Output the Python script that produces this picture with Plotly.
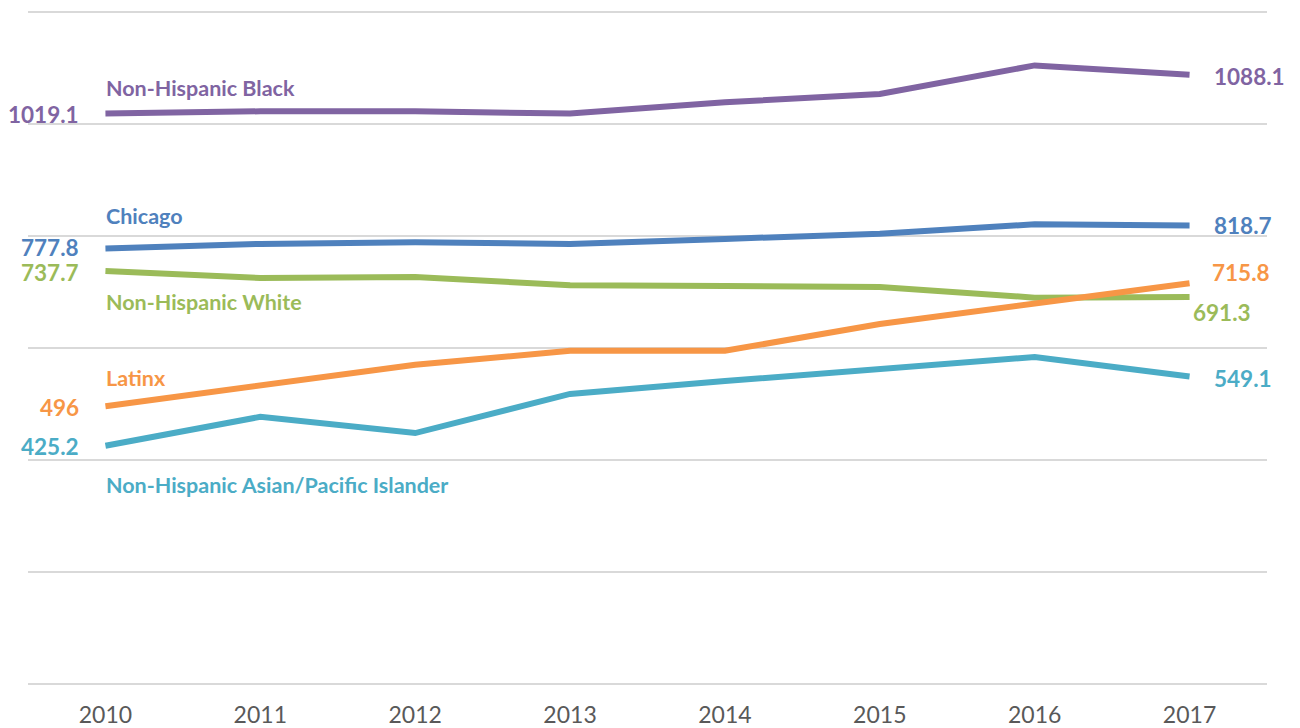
import plotly.graph_objects as go

years = ["2010", "2011", "2012", "2013", "2014", "2015", "2016", "2017"]
black = [1019.1, 1023, 1023, 1019, 1039, 1054, 1105, 1088.1]
chicago = [777.8, 786, 789, 786, 795, 804, 821, 818.7]
white = [737.7, 725, 727, 712, 711, 709, 690, 691.3]
latinx = [496, 532, 570, 595, 595, 643, 679, 715.8]
asian = [425.2, 477, 448, 518, 541, 562, 584, 549.1]

series = [
    ("Non-Hispanic Black", black, "#8064A2"),
    ("Chicago", chicago, "#4F81BD"),
    ("Non-Hispanic White", white, "#9BBB59"),
    ("Latinx", latinx, "#F79646"),
    ("Non-Hispanic Asian/Pacific Islander", asian, "#4BACC6"),
]

name_shift = {"Non-Hispanic Black": 25, "Chicago": 33, "Non-Hispanic White": -31,
              "Latinx": 28, "Non-Hispanic Asian/Pacific Islander": -39}
left_shift = {"Non-Hispanic Black": -1, "Chicago": 1, "Non-Hispanic White": -2,
              "Latinx": -1, "Non-Hispanic Asian/Pacific Islander": -1}
right_shift = {"Non-Hispanic Black": (22, -2), "Chicago": (22, 0), "Non-Hispanic White": (1, -16),
               "Latinx": (20, 11), "Non-Hispanic Asian/Pacific Islander": (22, -2)}

FONT = "Lato"
first_idx = 0
last_idx = len(years) - 1
fig = go.Figure()
for name, vals, color in series:
    fig.add_trace(go.Scatter(x=years, y=vals, mode="lines", name=name,
                             line=dict(color=color, width=6), hoverinfo="skip"))
    fig.add_annotation(x=first_idx, y=vals[0], xref="x", yref="y", text="<b>" + name + "</b>",
                       showarrow=False, xanchor="left", yanchor="middle", xshift=-1,
                       yshift=name_shift[name], font=dict(family=FONT, size=21.5, color=color))
    fig.add_annotation(x=first_idx, y=vals[0], xref="x", yref="y",
                       text="<b>%g</b>" % vals[0], showarrow=False, xanchor="right", yanchor="middle",
                       xshift=-24, yshift=left_shift[name], font=dict(family=FONT, size=22.5, color=color))
    xs, ys = right_shift[name]
    fig.add_annotation(x=last_idx, y=vals[-1], xref="x", yref="y",
                       text="<b>%g</b>" % vals[-1], showarrow=False, xanchor="left", yanchor="middle",
                       xshift=xs, yshift=ys, font=dict(family=FONT, size=22.5, color=color))

fig.update_layout(
    width=1292, height=720,
    margin=dict(l=20, r=33, t=2, b=42),
    paper_bgcolor="white", plot_bgcolor="white",
    showlegend=False,
    xaxis=dict(type="category", range=[-0.5, 7.5], showgrid=False, zeroline=False,
               showline=False, ticks="outside", ticklen=8, tickcolor="rgba(0,0,0,0)",
               automargin=False,
               tickfont=dict(family=FONT, size=23, color="#595959")),
    yaxis=dict(range=[-4, 1204], tick0=0, dtick=200, showgrid=True, gridcolor="#D9D9D9",
               gridwidth=1.5, automargin=False,
               zeroline=False, showticklabels=False, showline=False, ticks=""),
)
fig.write_html("out.html")
